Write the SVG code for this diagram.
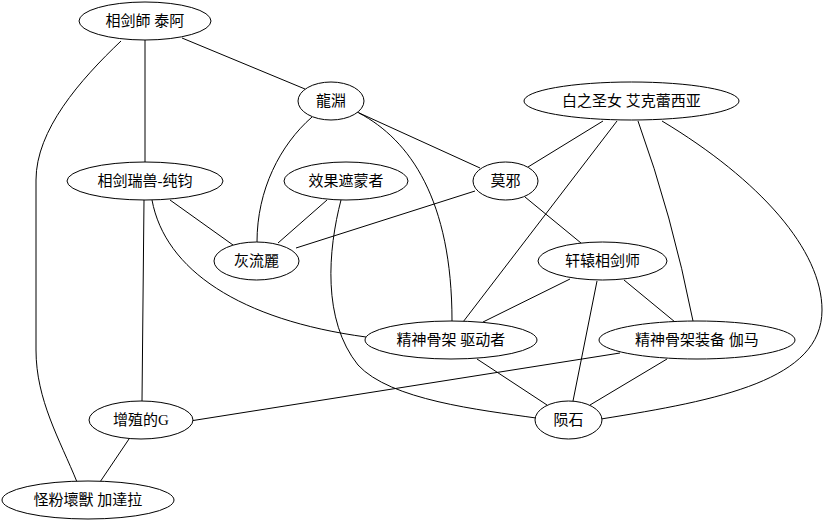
<svg xmlns="http://www.w3.org/2000/svg" width="826" height="525" viewBox="0 0 826 525">
<style>
.n ellipse{fill:#fff;stroke:#000;stroke-width:1}
.n text{font-family:"Liberation Serif","Noto Sans CJK SC",serif;font-size:15px;text-anchor:middle;dominant-baseline:central;fill:#000}
#edges path{fill:none;stroke:#000;stroke-width:1}
</style>
<rect width="826" height="525" fill="#fff"/>
<g id="edges">
<path d="M182,38 L305,89"/>
<path d="M145,40 L145,162"/>
<path d="M121,41 C80,80 36,130 36,180 L36,350 C36,400 60,440 77,482"/>
<path d="M312,117 C280,145 257,190 257,242"/>
<path d="M357,112 L480,168"/>
<path d="M359,113 C410,140 452,200 452,321"/>
<path d="M170,200 L233,245"/>
<path d="M144,200 L142,401"/>
<path d="M152,200 C165,270 240,320 366,337"/>
<path d="M327,200 L278,243"/>
<path d="M341,200 C328,250 322,320 358,365 C390,400 480,410 536,418"/>
<path d="M475,191 L296,248"/>
<path d="M528,167 L603,121"/>
<path d="M525,197 L581,243"/>
<path d="M617,121 L463,322"/>
<path d="M638,121 Q672,215 693,321"/>
<path d="M662,121 C760,180 822,250 822,310 C822,380 720,400 601,419"/>
<path d="M570,279 L483,322"/>
<path d="M624,280 L675,322"/>
<path d="M597,281 L573,401"/>
<path d="M477,359 L547,405"/>
<path d="M667,359 L590,405"/>
<path d="M620,353 L190,421"/>
<path d="M129,439 L100,482"/>
</g>
<g id="n1" class="n"><ellipse cx="145" cy="21" rx="66" ry="19"/><text x="145" y="21">相剑師 泰阿</text></g>
<g id="n2" class="n"><ellipse cx="331" cy="101" rx="33" ry="19"/><text x="331" y="101">龍淵</text></g>
<g id="n3" class="n"><ellipse cx="631.5" cy="101" rx="107.5" ry="19"/><text x="631.5" y="101">白之圣女 艾克蕾西亚</text></g>
<g id="n4" class="n"><ellipse cx="145" cy="181" rx="78" ry="19"/><text x="145" y="181">相剑瑞兽-纯钧</text></g>
<g id="n5" class="n"><ellipse cx="346" cy="181" rx="62" ry="19"/><text x="346" y="181">效果遮蒙者</text></g>
<g id="n6" class="n"><ellipse cx="505.5" cy="181" rx="32.5" ry="19"/><text x="505.5" y="181">莫邪</text></g>
<g id="n7" class="n"><ellipse cx="256.5" cy="261" rx="42.5" ry="19"/><text x="256.5" y="261">灰流麗</text></g>
<g id="n8" class="n"><ellipse cx="602.5" cy="261" rx="64.5" ry="19"/><text x="602.5" y="261">轩辕相剑师</text></g>
<g id="n9" class="n"><ellipse cx="451" cy="340" rx="86" ry="19"/><text x="451" y="340">精神骨架 驱动者</text></g>
<g id="n10" class="n"><ellipse cx="697" cy="340" rx="98" ry="19"/><text x="697" y="340">精神骨架装备 伽马</text></g>
<g id="n11" class="n"><ellipse cx="141" cy="420" rx="52" ry="19"/><text x="141" y="420">增殖的G</text></g>
<g id="n12" class="n"><ellipse cx="568.5" cy="420" rx="33.5" ry="19"/><text x="568.5" y="420">陨石</text></g>
<g id="n13" class="n"><ellipse cx="88" cy="500" rx="86" ry="19"/><text x="88" y="500">怪粉壞獸 加達拉</text></g>
</svg>
